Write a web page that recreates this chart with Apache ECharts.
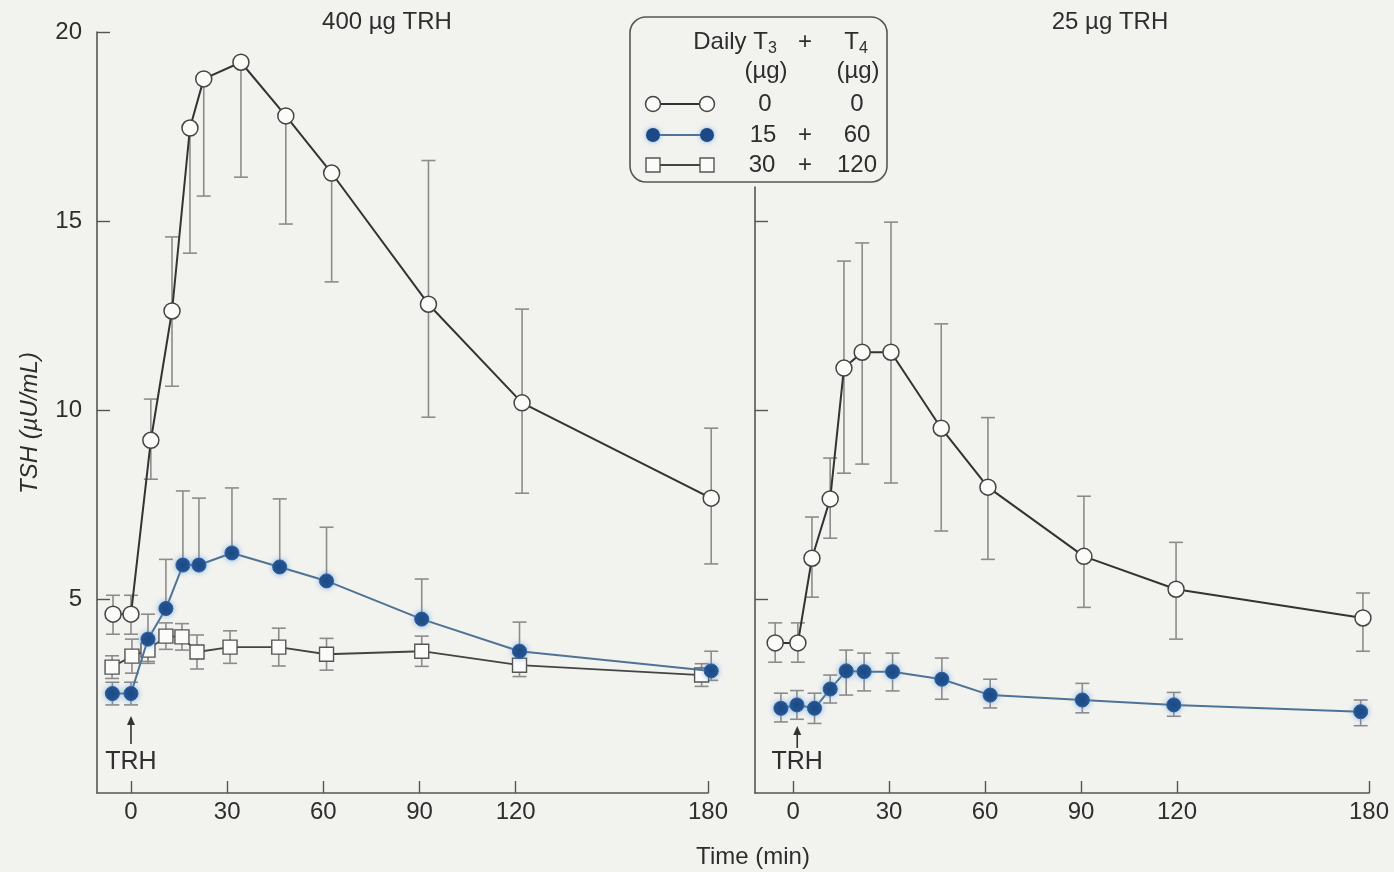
<!DOCTYPE html>
<html lang="en">
<head>
<meta charset="UTF-8">
<title>TSH response to TRH</title>
<style>
  html, body { margin: 0; padding: 0; background: #f2f2ef; }
  #main { width: 1394px; height: 872px; }
</style>
</head>
<body>
<div id="main"></div>
<script src="https://cdn.jsdelivr.net/npm/echarts@6/dist/echarts.min.js"></script>
<script>
// ---- 400 ug TRH (left panel) ----
// daily T3 0 + T4 0
var leftOpenTime = [-5.6, 0, 6.2, 12.8, 18.4, 22.7, 34.3, 48.3, 62.6, 92.8, 122, 181];
var leftOpenTSH  = [4.6, 4.6, 9.2, 12.62, 17.46, 18.76, 19.2, 17.78, 16.27, 12.8, 10.19, 7.67];
var leftOpenLow  = [4.07, 4.07, 8.17, 10.63, 14.15, 15.66, 16.16, 14.92, 13.39, 9.81, 7.8, 5.93];
var leftOpenHigh = [5.1, 5.1, 10.29, 14.58, 17.46, 18.76, 19.2, 17.78, 16.27, 16.6, 12.67, 9.52];
// daily T3 15 + T4 60
var leftBlueTime = [-5.8, 0, 5.3, 10.9, 16.2, 21.2, 31.5, 46.4, 61, 90.7, 121.2, 181];
var leftBlueTSH  = [2.5, 2.5, 3.94, 4.75, 5.9, 5.9, 6.22, 5.85, 5.48, 4.47, 3.62, 3.1];
var leftBlueLow  = [2.2, 2.2, 3.3, 4.75, 5.9, 5.9, 6.22, 5.85, 5.48, 4.47, 3.62, 2.85];
var leftBlueHigh = [2.8, 2.8, 4.6, 6.05, 7.86, 7.67, 7.94, 7.65, 6.9, 5.53, 4.39, 3.62];
// daily T3 30 + T4 120
var leftSquareTime = [-5.9, 0.3, 5.3, 10.9, 15.9, 20.6, 30.9, 46.1, 61, 90.7, 121.2, 178];
var leftSquareTSH  = [3.2, 3.49, 3.65, 4.02, 4.0, 3.6, 3.73, 3.73, 3.54, 3.62, 3.25, 2.99];
var leftSquareLow  = [2.9, 3.04, 3.35, 3.67, 3.65, 3.15, 3.3, 3.23, 3.12, 3.22, 2.95, 2.69];
var leftSquareHigh = [3.5, 3.94, 3.95, 4.37, 4.35, 4.05, 4.16, 4.23, 3.96, 4.02, 3.55, 3.29];

// ---- 25 ug TRH (right panel) ----
var rightOpenTime = [-5.6, 1.5, 5.9, 11.6, 15.9, 21.6, 30.6, 46.3, 60.9, 90.9, 119.7, 178.1];
var rightOpenTSH  = [3.84, 3.84, 6.08, 7.65, 11.11, 11.53, 11.53, 9.52, 7.96, 6.13, 5.26, 4.5];
var rightOpenLow  = [3.33, 3.33, 5.05, 6.61, 8.33, 8.57, 8.07, 6.8, 6.05, 4.78, 3.94, 3.62];
var rightOpenHigh = [4.37, 4.37, 7.17, 8.73, 13.94, 14.42, 14.97, 12.28, 9.8, 7.72, 6.5, 5.16];
var rightBlueTime = [-3.8, 1.2, 6.7, 11.6, 16.6, 22.2, 31.1, 46.5, 61.6, 90.4, 119, 177.4];
var rightBlueTSH  = [2.11, 2.2, 2.11, 2.62, 3.1, 3.08, 3.08, 2.88, 2.46, 2.33, 2.2, 2.02];
var rightBlueLow  = [1.75, 1.82, 1.71, 2.25, 2.46, 2.57, 2.57, 2.35, 2.12, 1.99, 1.9, 1.65];
var rightBlueHigh = [2.51, 2.58, 2.51, 2.99, 3.65, 3.57, 3.57, 3.44, 2.88, 2.77, 2.53, 2.33];

var timeTicks = [0, 30, 60, 90, 120, 180];
var leftTshTicks = [5, 10, 15, 20];
var rightTshTicks = [5, 10, 15];

var FONT = "'Liberation Sans', Arial, sans-serif";
var INK = '#2e2e2e';
var AXIS = '#555';
var BAR = '#8c8c8c';
var BLUE = '#1d4a86';
var BLUE_LINE = '#4f7394';
var PAPER = '#f2f2ef';
var HOLE = '#fbfbfa';

function points(times, vals) {
    return times.map(function (t, i) { return [t, vals[i]]; });
}

function barRows(times, vals, lows, highs) {
    return times.map(function (t, i) { return [t, lows[i], highs[i], vals[i]]; });
}

function errorSeries(gi, times, vals, lows, highs, color) {
    return {
        type: 'custom',
        xAxisIndex: gi, yAxisIndex: gi,
        z: 1, silent: true, clip: false,
        encode: { x: 0, y: [1, 2] },
        data: barRows(times, vals, lows, highs),
        renderItem: function (params, api) {
            var t = api.value(0), lo = api.value(1), hi = api.value(2), v = api.value(3);
            var pLo = api.coord([t, lo]), pHi = api.coord([t, hi]);
            var st = { stroke: color, lineWidth: 1.6 };
            var kids = [{ type: 'line', shape: { x1: pLo[0], y1: pLo[1], x2: pHi[0], y2: pHi[1] }, style: st }];
            if (lo < v) kids.push({ type: 'line', shape: { x1: pLo[0] - 7, y1: pLo[1], x2: pLo[0] + 7, y2: pLo[1] }, style: st });
            if (hi > v) kids.push({ type: 'line', shape: { x1: pHi[0] - 7, y1: pHi[1], x2: pHi[0] + 7, y2: pHi[1] }, style: st });
            return { type: 'group', children: kids };
        }
    };
}

function openSeries(gi, times, vals) {
    return {
        type: 'line', xAxisIndex: gi, yAxisIndex: gi, z: 3, clip: false,
        data: points(times, vals),
        symbol: 'circle', symbolSize: 16, showAllSymbol: true,
        lineStyle: { color: '#333', width: 2 },
        itemStyle: { color: HOLE, borderColor: '#444', borderWidth: 1.5 }
    };
}

function blueSeries(gi, times, vals) {
    return {
        type: 'line', xAxisIndex: gi, yAxisIndex: gi, z: 4, clip: false,
        data: points(times, vals),
        symbol: 'circle', symbolSize: 14, showAllSymbol: true,
        lineStyle: { color: BLUE_LINE, width: 2 },
        itemStyle: {
            color: BLUE, borderColor: '#2d5d98', borderWidth: 1,
            shadowColor: 'rgba(90,160,230,0.7)', shadowBlur: 5
        }
    };
}

function squareSeries(gi, times, vals) {
    return {
        type: 'line', xAxisIndex: gi, yAxisIndex: gi, z: 2, clip: false,
        data: points(times, vals),
        symbol: 'rect', symbolSize: 14, showAllSymbol: true,
        lineStyle: { color: '#444', width: 1.8 },
        itemStyle: { color: HOLE, borderColor: '#555', borderWidth: 1.4 }
    };
}

function timeAxis(gi, min) {
    return {
        type: 'value', gridIndex: gi, min: min, max: 180,
        axisLine: { onZero: false, lineStyle: { color: AXIS, width: 1.6 } },
        axisTick: { inside: true, length: 12, customValues: timeTicks, lineStyle: { color: AXIS, width: 1.4 } },
        axisLabel: { customValues: timeTicks, fontSize: 24, color: INK, fontFamily: FONT, margin: 7 },
        splitLine: { show: false }
    };
}

function tshAxis(gi, max, ticks, labels) {
    return {
        type: 'value', gridIndex: gi, min: -0.13, max: max,
        axisLine: { show: true, onZero: false, lineStyle: { color: AXIS, width: 1.6 } },
        axisTick: { show: true, inside: true, length: 13, customValues: ticks, lineStyle: { color: AXIS, width: 1.4 } },
        axisLabel: { show: labels, customValues: ticks, fontSize: 24, color: INK, fontFamily: FONT, margin: 15 },
        splitLine: { show: false }
    };
}

var chart = echarts.init(document.getElementById('main'));

chart.setOption({
    backgroundColor: PAPER,
    animation: false,
    grid: [
        { left: 97, right: 686, top: 32, bottom: 79 },
        { left: 755, right: 25, top: 187, bottom: 79 }
    ],
    xAxis: [timeAxis(0, -10.6), timeAxis(1, -11.9)],
    yAxis: [tshAxis(0, 20, leftTshTicks, true), tshAxis(1, 15.9, rightTshTicks, false)],
    series: [
        errorSeries(0, leftSquareTime, leftSquareTSH, leftSquareLow, leftSquareHigh, BAR),
        errorSeries(0, leftBlueTime, leftBlueTSH, leftBlueLow, leftBlueHigh, BAR),
        errorSeries(0, leftOpenTime, leftOpenTSH, leftOpenLow, leftOpenHigh, BAR),
        squareSeries(0, leftSquareTime, leftSquareTSH),
        openSeries(0, leftOpenTime, leftOpenTSH),
        blueSeries(0, leftBlueTime, leftBlueTSH),
        errorSeries(1, rightBlueTime, rightBlueTSH, rightBlueLow, rightBlueHigh, BAR),
        errorSeries(1, rightOpenTime, rightOpenTSH, rightOpenLow, rightOpenHigh, BAR),
        openSeries(1, rightOpenTime, rightOpenTSH),
        blueSeries(1, rightBlueTime, rightBlueTSH)
    ]
});

// TRH arrows sit at the injection time on each panel
var x0L = chart.convertToPixel({ xAxisIndex: 0 }, 0);
var x0R = chart.convertToPixel({ xAxisIndex: 1 }, 1.3);

function trh(x, tipY, baseY, textY) {
    return [
        { type: 'line', shape: { x1: x, y1: tipY + 6, x2: x, y2: baseY }, style: { stroke: '#333', lineWidth: 1.6 } },
        { type: 'polygon', shape: { points: [[x, tipY], [x - 4, tipY + 9], [x + 4, tipY + 9]] }, style: { fill: '#333' } },
        { type: 'text', x: x, y: textY, style: { text: 'TRH', font: '25px ' + FONT, fill: INK, align: 'center', verticalAlign: 'middle' } }
    ];
}

function txt(x, y, s, extra) {
    var st = { text: s, font: '24px ' + FONT, fill: INK, align: 'center', verticalAlign: 'middle' };
    if (extra) for (var k in extra) st[k] = extra[k];
    return { type: 'text', x: x, y: y, z: 20, style: st };
}

var subRich = { sub: { fontSize: 16, fontFamily: FONT, fill: INK, padding: [13, 0, 0, 0] } };

var legendItems = [
    { type: 'rect', z: 10, shape: { x: 630, y: 17, width: 257, height: 165, r: 16 }, style: { fill: PAPER, stroke: '#555', lineWidth: 1.6 } },
    txt(735, 42, 'Daily T{sub|3}', { rich: subRich }),
    txt(805, 42, '+'),
    txt(856, 42, 'T{sub|4}', { rich: subRich }),
    txt(766, 71, '(\u00b5g)'),
    txt(858, 71, '(\u00b5g)'),
    // row 1: open circles
    { type: 'line', z: 20, shape: { x1: 653, y1: 104, x2: 707, y2: 104 }, style: { stroke: '#333', lineWidth: 2 } },
    { type: 'circle', z: 21, shape: { cx: 653, cy: 104, r: 7.5 }, style: { fill: HOLE, stroke: '#444', lineWidth: 1.5 } },
    { type: 'circle', z: 21, shape: { cx: 707, cy: 104, r: 7.5 }, style: { fill: HOLE, stroke: '#444', lineWidth: 1.5 } },
    txt(765, 104, '0'), txt(857, 104, '0'),
    // row 2: filled blue circles
    { type: 'line', z: 20, shape: { x1: 653, y1: 135, x2: 707, y2: 135 }, style: { stroke: BLUE_LINE, lineWidth: 2 } },
    { type: 'circle', z: 21, shape: { cx: 653, cy: 135, r: 7 }, style: { fill: BLUE, shadowColor: 'rgba(90,160,230,0.7)', shadowBlur: 5 } },
    { type: 'circle', z: 21, shape: { cx: 707, cy: 135, r: 7 }, style: { fill: BLUE, shadowColor: 'rgba(90,160,230,0.7)', shadowBlur: 5 } },
    txt(763, 135, '15'), txt(805, 135, '+'), txt(857, 135, '60'),
    // row 3: open squares
    { type: 'line', z: 20, shape: { x1: 653, y1: 165, x2: 707, y2: 165 }, style: { stroke: '#444', lineWidth: 1.8 } },
    { type: 'rect', z: 21, shape: { x: 646, y: 158, width: 14, height: 14 }, style: { fill: HOLE, stroke: '#555', lineWidth: 1.4 } },
    { type: 'rect', z: 21, shape: { x: 700, y: 158, width: 14, height: 14 }, style: { fill: HOLE, stroke: '#555', lineWidth: 1.4 } },
    txt(762, 165, '30'), txt(805, 165, '+'), txt(857, 165, '120')
];

var labels = [
    txt(387, 22, '400 \u00b5g TRH'),
    txt(1110, 22, '25 \u00b5g TRH'),
    txt(753, 857, 'Time (min)'),
    { type: 'text', x: 30, y: 423, rotation: Math.PI / 2, style: { text: 'TSH (\u00b5U/mL)', font: 'italic 24px ' + FONT, fill: INK, align: 'center', verticalAlign: 'middle' } }
];

chart.setOption({
    graphic: labels
        .concat(trh(x0L, 716, 744, 762))
        .concat(trh(x0R, 726, 748, 762))
        .concat(legendItems)
});
</script>
</body>
</html>
